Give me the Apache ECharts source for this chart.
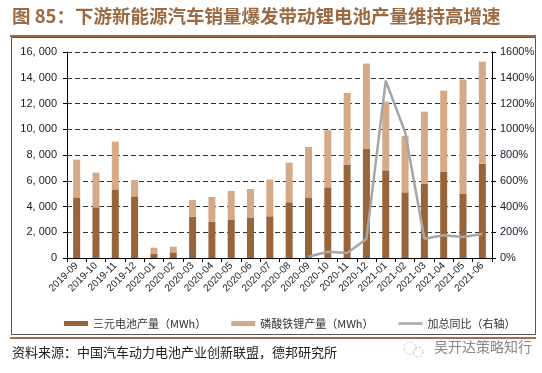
<!DOCTYPE html>
<html><head><meta charset="utf-8">
<script src="https://cdn.jsdelivr.net/npm/echarts@6/dist/echarts.min.js"></script>
<style>html,body{margin:0;padding:0;background:#fff}#c{width:542px;height:373px}</style>
</head><body><div id="c"></div>
<script>
const categories = ['2019-09','2019-10','2019-11','2019-12','2020-01','2020-02','2020-03','2020-04','2020-05','2020-06','2020-07','2020-08','2020-09','2020-10','2020-11','2020-12','2021-01','2021-02','2021-03','2021-04','2021-05','2021-06'];
const ternary = [4710,3940,5330,4790,310,440,3210,2820,3000,3110,3240,4330,4710,5490,7250,8500,6810,5100,5780,6680,4970,7330];
const lfp = [2930,2690,3710,1270,490,440,1300,1920,2210,2250,2850,3080,3910,4430,5570,6600,5340,4380,5590,6320,8890,7920];
const yoy = [null,null,null,null,null,null,null,null,null,null,null,null,10,49,39,148,1377,979,150,176,163,186];
const leftTicks = [0,2000,4000,6000,8000,10000,12000,14000,16000];
const rightTicks = [0,200,400,600,800,1000,1200,1400,1600];
const names = ['三元电池产量（MWh）','磷酸铁锂产量（MWh）','加总同比（右轴）'];
const titleText = '图 85：下游新能源汽车销量爆发带动锂电池产量维持高增速';
const sourceText = '资料来源：中国汽车动力电池产业创新联盟，德邦研究所';
const watermark = '吴开达策略知行';

const chart = echarts.init(document.getElementById('c'), null, {renderer:'canvas'});
const font = '"Noto Sans CJK SC", "Liberation Sans", sans-serif';
const brown = '#9b6a42';
chart.setOption({
  animation:false,
  textStyle:{fontFamily:font},
  grid:{left:67,right:50,top:52,bottom:115},
  legend:{
    left:59, top:313, itemGap:25, itemWidth:24, itemHeight:5,
    textStyle:{fontSize:11,color:'#333',fontFamily:font},
    data:[{name:names[0],icon:'rect'},{name:names[1],icon:'rect'},
      {name:names[2],icon:'path://M0,0H24V0.01H0Z M0,1.25H24V3.75H0Z M0,4.99H24V5H0Z'}]
  },
  xAxis:{
    type:'category', data:categories, boundaryGap:true,
    axisLine:{lineStyle:{color:'#000',width:1}},
    axisTick:{show:true,alignWithLabel:false,length:4,lineStyle:{color:'#000'}},
    axisLabel:{rotate:45,fontSize:10,color:'#222',margin:6,interval:0,fontFamily:'"Liberation Sans", Arial, sans-serif'}
  },
  yAxis:[{
    type:'value', min:0, max:16000, interval:2000,
    axisLine:{show:true,lineStyle:{color:'#000'}},
    axisTick:{show:true,length:4,lineStyle:{color:'#000'}},
    axisLabel:{fontSize:11,color:'#1a1a2e',margin:10,fontFamily:'"Liberation Sans", Arial, sans-serif',
      formatter:v=>leftTicks.includes(v)?v.toLocaleString('en-US').replace(',',', '):''},
    splitLine:{show:true,lineStyle:{color:'#333',type:[5,3],width:1}}
  },{
    type:'value', min:0, max:1600, interval:200,
    axisLine:{show:true,lineStyle:{color:'#000'}},
    axisTick:{show:true,length:4,lineStyle:{color:'#000'}},
    axisLabel:{fontSize:11,color:'#1a1a2e',margin:8,fontFamily:'"Liberation Sans", Arial, sans-serif',
      formatter:v=>rightTicks.includes(v)?v+'%':''},
    splitLine:{show:false}
  }],
  series:[
    {name:names[0],type:'bar',stack:'a',data:ternary,barWidth:7,itemStyle:{color:'#98653b'}},
    {name:names[1],type:'bar',stack:'a',data:lfp,barWidth:7,itemStyle:{color:'#d4aa88'}},
    {name:names[2],type:'line',yAxisIndex:1,data:yoy,symbol:'none',connectNulls:false,
      lineStyle:{color:'#a6a6a6',width:2.5},itemStyle:{color:'#a6a6a6'}}
  ],
  graphic:[
    {type:'text',left:12,top:7,style:{text:titleText,fill:brown,font:'bold 18.5px '+font}},
    {type:'rect',shape:{x:10,y:35,width:526,height:2},style:{fill:brown}},
    {type:'rect',shape:{x:11.5,y:37.5,width:524,height:297},style:{fill:'none',stroke:'#555',lineWidth:1}},
    {type:'rect',shape:{x:10,y:337,width:526,height:2},style:{fill:'#a07050'}},
    {type:'text',left:12,top:346,style:{text:sourceText,fill:'#222',font:'13px '+font}},
    {type:'circle',shape:{cx:410,cy:348,r:6},style:{fill:'none',stroke:'#bbb',lineWidth:1,lineDash:[2,2]}},
    {type:'circle',shape:{cx:418,cy:352,r:5},style:{fill:'none',stroke:'#bbb',lineWidth:1,lineDash:[2,2]}},
    {type:'text',left:434,top:340,style:{text:watermark,fill:'#888',font:'14px '+font}}
  ]
});
</script></body></html>
